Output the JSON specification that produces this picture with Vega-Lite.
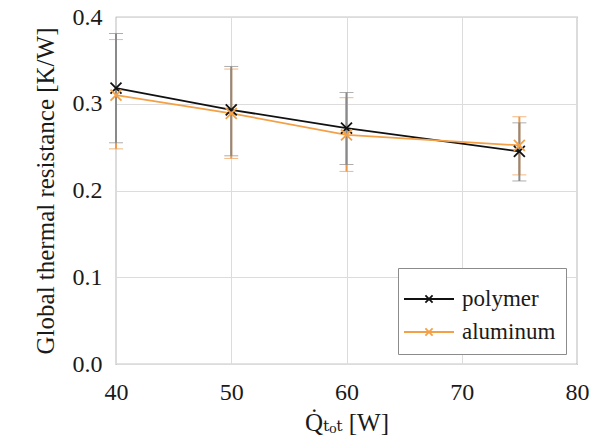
{
  "$schema": "https://vega.github.io/schema/vega-lite/v6.json",
  "width": 461,
  "height": 347,
  "autosize": "none",
  "padding": {"left": 116, "top": 17, "right": 14, "bottom": 80},
  "background": "white",
  "config": {
    "view": {"stroke": "#8c8c8c", "strokeWidth": 1.2},
    "font": "Times New Roman, Liberation Serif, DejaVu Serif, serif",
    "axis": {
      "labelFont": "Times New Roman, Liberation Serif, DejaVu Serif, serif",
      "titleFont": "Times New Roman, Liberation Serif, DejaVu Serif, serif",
      "labelFontSize": 24,
      "titleFontSize": 25,
      "labelColor": "#1a1a1a",
      "titleColor": "#1a1a1a",
      "titleFontWeight": "normal",
      "domain": false,
      "ticks": false,
      "gridColor": "#dcdcdc",
      "gridWidth": 1
    },
    "legend": {
      "labelFont": "Times New Roman, Liberation Serif, DejaVu Serif, serif",
      "labelFontSize": 23,
      "labelColor": "#1a1a1a"
    }
  },
  "data": {
    "values": [
      {"series": "polymer", "Q": 40, "R": 0.318, "lo": 0.255, "hi": 0.381},
      {"series": "polymer", "Q": 50, "R": 0.293, "lo": 0.240, "hi": 0.343},
      {"series": "polymer", "Q": 60, "R": 0.272, "lo": 0.230, "hi": 0.313},
      {"series": "polymer", "Q": 75, "R": 0.245, "lo": 0.211, "hi": 0.278},
      {"series": "aluminum", "Q": 40, "R": 0.310, "lo": 0.248, "hi": 0.374},
      {"series": "aluminum", "Q": 50, "R": 0.289, "lo": 0.237, "hi": 0.340},
      {"series": "aluminum", "Q": 60, "R": 0.264, "lo": 0.222, "hi": 0.307},
      {"series": "aluminum", "Q": 75, "R": 0.252, "lo": 0.218, "hi": 0.285}
    ]
  },
  "encoding": {
    "x": {
      "field": "Q", "type": "quantitative",
      "scale": {"domain": [40, 80], "nice": false, "zero": false},
      "axis": {"values": [40, 50, 60, 70, 80], "labelPadding": 16, "title": "Q̇ₜₒₜ [W]", "titlePadding": 6, "labelFlush": false}
    },
    "y": {
      "field": "R", "type": "quantitative",
      "title": "Global thermal resistance [K/W]",
      "scale": {"domain": [0, 0.4], "nice": false},
      "axis": {"values": [0, 0.1, 0.2, 0.3, 0.4], "format": ".1f", "labelPadding": 14, "titlePadding": 14}
    }
  },
  "layer": [
    {
      "transform": [{"filter": "datum.series === 'aluminum'"}],
      "mark": {"type": "errorbar", "ticks": {"size": 14, "color": "#ee9a4a", "strokeWidth": 2}, "rule": {"color": "#ee9a4a", "strokeWidth": 2}},
      "encoding": {
        "y": {"field": "lo", "type": "quantitative", "title": "Global thermal resistance [K/W]"},
        "y2": {"field": "hi"}
      }
    },
    {
      "transform": [{"filter": "datum.series === 'polymer'"}],
      "mark": {"type": "errorbar", "ticks": {"size": 14, "color": "#8a8a8a", "strokeWidth": 2}, "rule": {"color": "#8a8a8a", "strokeWidth": 2}},
      "encoding": {
        "y": {"field": "lo", "type": "quantitative", "title": "Global thermal resistance [K/W]"},
        "y2": {"field": "hi"}
      }
    },
    {
      "mark": {"type": "line", "strokeWidth": 1.8},
      "encoding": {
        "color": {
          "field": "series", "type": "nominal",
          "scale": {"domain": ["polymer", "aluminum"], "range": ["#111111", "#f4a046"]},
          "legend": {
            "title": null,
            "orient": "none",
            "legendX": 282,
            "legendY": 251,
            "direction": "vertical",
            "padding": 10,
            "strokeColor": "#8c8c8c",
            "fillColor": "white",
            "symbolType": "M-1.25,0L1.25,0M-0.18,-0.18L0.18,0.18M-0.18,0.18L0.18,-0.18",
            "symbolSize": 1600,
            "symbolStrokeWidth": 1.8,
            "labelOffset": 12,
            "rowPadding": 0
          }
        },
        "order": {"field": "Q"}
      }
    },
    {
      "mark": {"type": "point", "shape": "M-1,-1L1,1M-1,1L1,-1", "filled": false, "size": 120, "strokeWidth": 1.8, "opacity": 1},
      "encoding": {
        "color": {"field": "series", "type": "nominal", "legend": null}
      }
    }
  ]
}
